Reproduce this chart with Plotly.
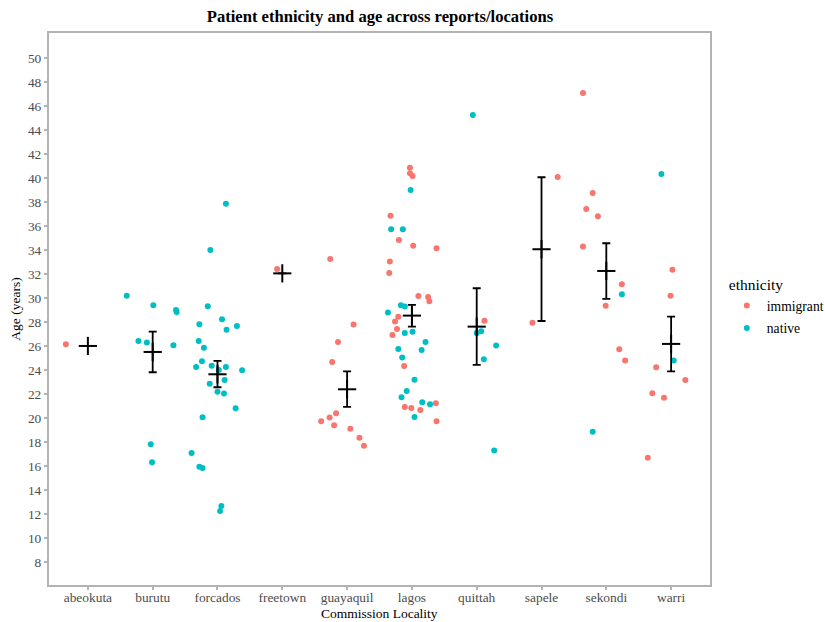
import plotly.graph_objects as go

# ---- data ----
localities = ["abeokuta", "burutu", "forcados", "freetown", "guayaquil",
              "lagos", "quittah", "sapele", "sekondi", "warri"]

# immigrant points: locality, age, horizontal jitter (category units)
imm_loc = (["abeokuta"] + ["freetown"] + ["guayaquil"] * 11 + ["lagos"] * 22 +
           ["quittah"] + ["sapele"] * 2 + ["sekondi"] * 9 + ["warri"] * 7)
imm_age = [26.14,
           32.42,
           33.25, 27.78, 26.33, 24.67, 20.39, 20.03, 19.72, 19.39, 19.11, 18.36, 17.69,
           40.86, 40.39, 40.17, 36.86, 34.83, 34.36, 34.14, 33.03, 32.08, 30.17, 30.08,
           29.72, 28.44, 28.03, 27.42, 26.92, 24.33, 20.92, 20.83, 20.67, 21.22, 19.72,
           28.11,
           40.08, 27.94,
           47.08, 38.75, 37.42, 36.81, 34.28, 31.14, 29.36, 25.72, 24.78,
           32.36, 30.19, 24.22, 23.17, 22.06, 21.69, 16.69]
imm_jit = [-0.34,
           -0.08,
           -0.26, 0.10, -0.14, -0.23, -0.17, -0.27, -0.40, -0.20, 0.05, 0.19, 0.26,
           -0.03, -0.03, 0.01, -0.33, -0.20, 0.02, 0.38, -0.34, -0.35, 0.10, 0.25,
           0.27, -0.21, -0.26, -0.23, -0.30, -0.12, -0.11, -0.01, 0.13, 0.37, 0.38,
           0.12,
           0.25, -0.14,
           -0.36, -0.21, -0.31, -0.13, -0.36, 0.24, -0.01, 0.20, 0.29,
           0.02, -0.01, -0.23, 0.22, -0.29, -0.11, -0.36]

# native points
nat_loc = (["burutu"] * 9 + ["forcados"] * 26 + ["lagos"] * 18 +
           ["quittah"] * 6 + ["sekondi"] * 2 + ["warri"] * 2)
nat_age = [30.19, 29.39, 29.00, 28.83, 26.42, 26.28, 26.06, 17.81, 16.31,
           37.86, 34.00, 29.31, 28.22, 27.81, 27.36, 27.67, 26.42, 25.86, 24.72,
           24.25, 24.36, 24.25, 23.97, 24.00, 23.17, 22.86, 22.19, 22.03, 20.81,
           20.06, 17.08, 15.94, 15.83, 12.67, 12.25,
           39.00, 35.72, 35.72, 29.39, 29.28, 28.78, 27.08, 27.19, 26.33, 25.67,
           25.75, 25.03, 23.19, 22.25, 21.72, 21.31, 21.14, 20.08,
           45.25, 27.08, 27.22, 26.03, 24.89, 17.28,
           30.31, 18.86,
           40.33, 24.78]
nat_jit = [-0.40, 0.01, 0.36, 0.37, -0.22, -0.09, 0.32, -0.03, -0.01,
           0.13, -0.11, -0.15, 0.07, -0.28, 0.14, 0.30, -0.29, -0.21, -0.24,
           -0.33, -0.09, 0.13, 0.38, 0.02, 0.11, -0.12, 0.00, 0.10, 0.28,
           -0.23, -0.40, -0.28, -0.23, 0.06, 0.04,
           -0.02, -0.32, -0.14, -0.17, -0.11, -0.37, -0.11, 0.01, 0.21, 0.15,
           -0.21, -0.15, 0.04, -0.08, -0.16, 0.16, 0.28, 0.04,
           -0.06, 0.00, 0.07, 0.30, 0.11, 0.27,
           0.24, -0.21,
           -0.15, 0.04]

# mean and error bar limits per locality
mean_age = [26.00, 25.50, 23.64, 32.05, 22.39, 28.53, 27.61, 34.06, 32.25, 26.17]
err_hi = [26.00, 27.19, 24.75, 32.05, 23.89, 29.42, 30.81, 40.06, 34.56, 28.44]
err_lo = [26.00, 23.81, 22.56, 32.05, 20.92, 27.61, 24.42, 28.08, 29.92, 23.89]

y_ticks = list(range(8, 51, 2))

# ---- figure ----
idx = {name: i + 1 for i, name in enumerate(localities)}
FONT = "Liberation Serif"

fig = go.Figure()
fig.add_trace(go.Scatter(
    x=[idx[l] + j for l, j in zip(imm_loc, imm_jit)], y=imm_age,
    mode="markers", name="immigrant", legendgroup="imm",
    marker=dict(color="#F8766D", size=6, line=dict(width=0)),
))
fig.add_trace(go.Scatter(
    x=[idx[l] + j for l, j in zip(nat_loc, nat_jit)], y=nat_age,
    mode="markers", name="native", legendgroup="nat",
    marker=dict(color="#00BFC4", size=6, line=dict(width=0)),
))
fig.add_trace(go.Scatter(
    x=[idx[l] for l in localities], y=mean_age,
    mode="markers", showlegend=False,
    marker=dict(symbol="line-ew", size=13, line=dict(color="black", width=2)),
    error_y=dict(type="data", symmetric=False,
                 array=[h - m for h, m in zip(err_hi, mean_age)],
                 arrayminus=[m - l for m, l in zip(mean_age, err_lo)],
                 color="black", thickness=1.8, width=4),
))
# vertical stroke of the "+" for points with no spread
fig.add_trace(go.Scatter(
    x=[idx[l] for l in localities], y=mean_age,
    mode="markers", showlegend=False,
    marker=dict(symbol="line-ns", size=13, line=dict(color="black", width=2)),
))

axis_common = dict(showline=True, mirror=True, linecolor="#B3B3B3", linewidth=2,
                   ticks="outside", tickcolor="#B3B3B3", ticklen=3, tickwidth=1.5,
                   showgrid=False, zeroline=False, automargin=False,
                   tickfont=dict(family=FONT, size=13.4, color="#4D4D4D"))

fig.update_layout(
    width=825, height=622,
    margin=dict(l=49, r=115, t=33, b=37, autoexpand=False),
    paper_bgcolor="white", plot_bgcolor="white",
    font=dict(family=FONT, color="black"),
    title=dict(text="<b>Patient ethnicity and age across reports/locations</b>",
               x=0.4606, xanchor="center", y=0.974, yanchor="middle",
               font=dict(family=FONT, size=16.6, color="black")),
    xaxis=dict(range=[0.4, 10.6], tickvals=list(range(1, 11)), ticktext=localities,
               ticklabelstandoff=-4, **axis_common),
    yaxis=dict(range=[6.08, 52.08], tickvals=y_ticks, ticktext=[str(t) for t in y_ticks],
               title=dict(text="Age (years)", standoff=4,
                          font=dict(family=FONT, size=13.5)),
               **axis_common),
    legend=dict(xref="container", yref="container",
                x=0.881, xanchor="left", y=0.566, yanchor="top",
                title=dict(text="ethnicity", font=dict(family=FONT, size=15.5)),
                font=dict(family=FONT, size=13.6, color="black"),
                traceorder="grouped", tracegroupgap=2,
                bgcolor="rgba(0,0,0,0)"),
    annotations=[dict(text="Commission Locality", xref="paper", yref="paper",
                      x=0.5, y=-0.0525, xanchor="center", yanchor="middle",
                      showarrow=False, font=dict(family=FONT, size=13.5, color="black"))],
)

fig.write_html("out.html",
               config={"displayModeBar": False},
               post_script="document.body.style.margin='0';"
                           "document.body.style.overflow='hidden';")
